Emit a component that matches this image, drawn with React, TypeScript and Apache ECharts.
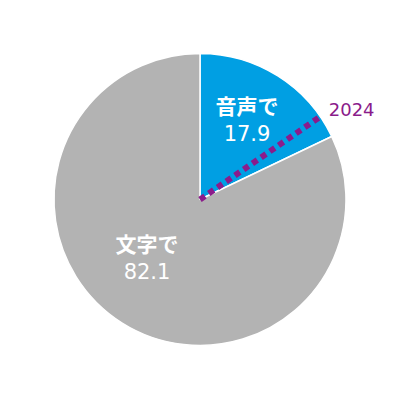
import React, { useEffect, useRef } from "react";
import * as echarts from "echarts";

const categories = ["音声で", "文字で"];
const values = [17.9, 82.1];
const sliceColors = ["#009FE3", "#B3B3B3"];
const markerLabel = "2024";
const markerValue = 15.4;
const labelSpots = [
  [247, 119],
  [147, 257],
];

export default function App() {
  const ref = useRef<HTMLDivElement>(null);
  useEffect(() => {
    document.body.style.margin = "0";
    const chart = echarts.init(ref.current!, null, { renderer: "svg" });
    const total = values.reduce((a, b) => a + b, 0);
    const center = [200, 199.5];
    const radius = 146;
    chart.setOption({
      animation: false,
      polar: { center, radius },
      angleAxis: {
        type: "value",
        min: 0,
        max: total,
        startAngle: 90,
        clockwise: true,
        show: false,
      },
      radiusAxis: { type: "value", min: 0, max: 1, show: false },
      series: [
        {
          type: "pie",
          center,
          radius: [0, radius],
          startAngle: 90,
          clockwise: true,
          z: 1,
          itemStyle: { borderColor: "#ffffff", borderWidth: 1.5 },
          label: {
            show: true,
            position: "inside",
            formatter: (p: any) => `{a|${p.name}}\n{b|${p.value}}`,
            rich: {
              a: {
                color: "#ffffff",
                fontSize: 21,
                fontWeight: "bold",
                fontFamily: "Noto Sans CJK JP",
                lineHeight: 29,
                align: "center",
              },
              b: {
                color: "#ffffff",
                fontSize: 21,
                fontFamily: "DejaVu Sans",
                lineHeight: 29,
                align: "center",
              },
            },
          },
          labelLayout: (params: any) => ({
            x: labelSpots[params.dataIndex][0],
            y: labelSpots[params.dataIndex][1],
            align: "center",
            verticalAlign: "middle",
          }),
          labelLine: { show: false },
          emphasis: { disabled: true },
          data: categories.map((c, i) => ({
            name: c,
            value: values[i],
            itemStyle: { color: sliceColors[i] },
          })),
        },
        {
          type: "line",
          coordinateSystem: "polar",
          clip: false,
          z: 5,
          symbol: "circle",
          symbolSize: 1,
          showSymbol: true,
          itemStyle: { color: "rgba(0,0,0,0)" },
          lineStyle: {
            color: "#8B1C8B",
            width: 6,
            type: [6, 4.6],
            cap: "butt",
          },
          emphasis: { disabled: true },
          data: [
            { value: [0, markerValue] },
            {
              value: [1.025, markerValue],
              label: {
                show: true,
                position: "right",
                distance: 5,
                offset: [0, -5],
                formatter: markerLabel,
                color: "#8B1C8B",
                fontSize: 18,
                fontFamily: "DejaVu Sans",
              },
            },
          ],
        },
      ],
    });
    return () => chart.dispose();
  }, []);
  return <div ref={ref} style={{ width: 400, height: 400 }} />;
}
